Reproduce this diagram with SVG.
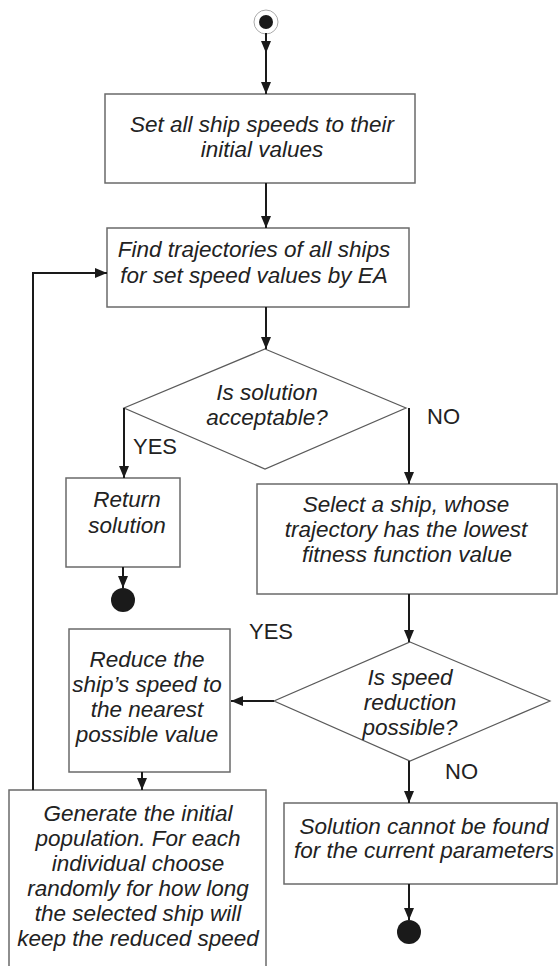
<svg xmlns="http://www.w3.org/2000/svg" width="558" height="966" viewBox="0 0 558 966">
<defs>
<marker id="ah" markerUnits="userSpaceOnUse" markerWidth="12" markerHeight="12" viewBox="0 0 12 12" refX="12" refY="6" orient="auto">
<path d="M0,1 L12,6 L0,11 Z" fill="#1a1a1a"/>
</marker>
<style>
.box{fill:#fff;stroke:#6a6a6a;stroke-width:1.5}
.dia{fill:#fff;stroke:#5a5a5a;stroke-width:1.2}
.t{font-family:"Liberation Sans",Arial,sans-serif;font-style:italic;font-size:22.5px;fill:#222;text-anchor:middle}
.lbl{font-family:"Liberation Sans",Arial,sans-serif;font-size:22px;fill:#222}
.c{fill:none;stroke:#1a1a1a;stroke-width:2;marker-end:url(#ah)}
.cn{fill:none;stroke:#1a1a1a;stroke-width:2}
</style>
</defs>
<rect width="558" height="966" fill="#fff"/>

<g id="start">
<circle cx="266" cy="22" r="12" fill="#fff" stroke="#aaa" stroke-width="1"/>
<circle cx="266" cy="22" r="7" fill="#1a1a1a"/>
</g>

<g id="box-set-speeds">
<rect class="box" x="105" y="94" width="310" height="89"/>
<text class="t" x="262" y="132">Set all ship speeds to their</text>
<text class="t" x="262" y="157">initial values</text>
</g>

<g id="box-find-trajectories">
<rect class="box" x="107" y="228" width="302" height="79"/>
<text class="t" x="254" y="257">Find trajectories of all ships</text>
<text class="t" x="254" y="283">for set speed values by EA</text>
</g>

<g id="decision-acceptable">
<polygon class="dia" points="265,349 406,408 265,469 124,408"/>
<text class="t" x="267" y="400">Is solution</text>
<text class="t" x="267" y="425">acceptable?</text>
</g>

<g id="box-return">
<rect class="box" x="66" y="478" width="114" height="89"/>
<text class="t" x="127" y="507">Return</text>
<text class="t" x="127" y="533">solution</text>
</g>

<g id="end-1">
<circle cx="123" cy="600" r="12" fill="#1a1a1a"/>
</g>

<g id="box-select-ship">
<rect class="box" x="257" y="484" width="300" height="110"/>
<text class="t" x="406" y="512">Select a ship, whose</text>
<text class="t" x="406" y="537">trajectory has the lowest</text>
<text class="t" x="407" y="562">fitness function value</text>
</g>

<g id="decision-speed-reduction">
<polygon class="dia" points="410,642 550,701 410,761 274,701"/>
<text class="t" x="410" y="685">Is speed</text>
<text class="t" x="410" y="710">reduction</text>
<text class="t" x="410" y="735">possible?</text>
</g>

<g id="box-reduce-speed">
<rect class="box" x="69" y="629" width="161" height="143"/>
<text class="t" x="147" y="667">Reduce the</text>
<text class="t" x="147" y="692">ship’s speed to</text>
<text class="t" x="147" y="717">the nearest</text>
<text class="t" x="147" y="742">possible value</text>
</g>

<g id="box-generate">
<rect class="box" x="9" y="790" width="257" height="190"/>
<text class="t" x="138" y="821">Generate the initial</text>
<text class="t" x="138" y="846">population. For each</text>
<text class="t" x="138" y="871">individual choose</text>
<text class="t" x="138" y="896">randomly for how long</text>
<text class="t" x="138" y="921">the selected ship will</text>
<text class="t" x="138" y="946">keep the reduced speed</text>
</g>

<g id="box-no-solution">
<rect class="box" x="284" y="803" width="273" height="81"/>
<text class="t" x="424" y="834">Solution cannot be found</text>
<text class="t" x="424" y="858">for the current parameters</text>
</g>

<g id="end-2">
<circle cx="409" cy="932" r="12" fill="#1a1a1a"/>
</g>

<g id="connectors">
<path class="c" d="M266,33 V53"/>
<path class="c" d="M266,52 V94"/>
<path class="c" d="M266,183 V228"/>
<path class="c" d="M266,307 V349"/>
<path class="c" d="M124,408 V478"/>
<path class="c" d="M409,408 V484"/>
<path class="c" d="M123,567 V588"/>
<path class="c" d="M409,594 V642"/>
<path class="c" d="M274,701 H231"/>
<path class="c" d="M409,761 V803"/>
<path class="c" d="M142,772 V790"/>
<path class="c" d="M33,790 V273 H107"/>
<path class="c" d="M409,884 V920"/>
<text class="lbl" x="133" y="454">YES</text>
<text class="lbl" x="427" y="424">NO</text>
<text class="lbl" x="249" y="639">YES</text>
<text class="lbl" x="445" y="779">NO</text>
</g>
</svg>
